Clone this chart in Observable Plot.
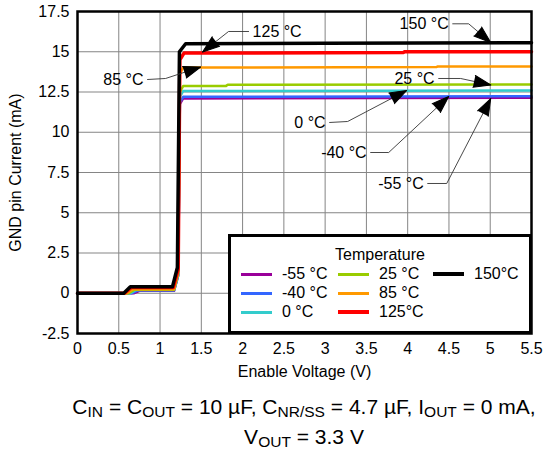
<!DOCTYPE html>
<html><head><meta charset="utf-8">
<script src="https://cdn.jsdelivr.net/npm/d3@7"></script>
<script src="https://cdn.jsdelivr.net/npm/@observablehq/plot@0.6"></script>
<style>
html,body{margin:0;padding:0;background:#fff;overflow:hidden}
#chart{position:relative;width:543px;height:455px;font-family:"Liberation Sans",Arial,sans-serif;color:#000}
#legend{position:absolute;box-sizing:border-box;background:#fff;border:3px solid #000}
#legend div{position:absolute;white-space:nowrap}
#caption{position:absolute;left:0;width:608px;text-align:center;font-size:21px;line-height:30px;white-space:nowrap}
#caption sub{font-size:0.74em;vertical-align:-0.22em;line-height:0}
</style></head><body><div id="chart"></div><script>
// ---- data ----
const temps = ["-55 °C", "-40 °C", "0 °C", "25 °C", "85 °C", "125°C", "150°C"];
const colors = ["#990099", "#3366ff", "#33cccc", "#99cc00", "#ff9900", "#ff0000", "#000000"];
const xTicks = [0, 0.5, 1, 1.5, 2, 2.5, 3, 3.5, 4, 4.5, 5, 5.5];
const yTicks = [-2.5, 0, 2.5, 5, 7.5, 10, 12.5, 15, 17.5];

const voltM55 = [0, 0.68, 0.75, 1.17, 1.22, 1.24, 1.28, 5.5];
const currM55 = [0, 0, 0.15, 0.15, 1.1, 11.75, 12.1, 12.14];
const voltM40 = [0, 0.66, 0.73, 1.17, 1.22, 1.24, 1.28, 5.5];
const currM40 = [0, 0, 0.18, 0.18, 1.1, 11.85, 12.2, 12.24];
const volt0 = [0, 0.64, 0.71, 1.17, 1.22, 1.24, 1.28, 5.5];
const curr0 = [0, 0, 0.2, 0.2, 1.2, 12.2, 12.56, 12.6];
const volt25 = [0, 0.62, 0.69, 1.17, 1.22, 1.24, 1.28, 1.8, 1.82, 5.5];
const curr25 = [0, 0, 0.22, 0.22, 1.2, 12.5, 12.87, 12.88, 12.95, 12.97];
const volt85 = [0, 0.6, 0.67, 1.17, 1.22, 1.24, 1.28, 4.35, 4.36, 5.5];
const curr85 = [0, 0, 0.25, 0.25, 1.3, 13.6, 14.02, 14.05, 14.08, 14.08];
const volt125 = [0, 0.57, 0.65, 1.16, 1.22, 1.24, 1.29, 3.95, 3.96, 5.5];
const curr125 = [0, 0, 0.35, 0.35, 1.5, 14.5, 14.92, 14.95, 15.0, 15.0];
const volt150 = [0, 0.56, 0.64, 1.15, 1.21, 1.235, 1.31, 3.0, 5.5];
const curr150 = [0, 0, 0.4, 0.4, 1.6, 15.0, 15.5, 15.53, 15.56];

const annLabels = ["125 °C", "85 °C", "150 °C", "25 °C", "0 °C", "-40 °C", "-55 °C"];
const annTextV = [2.121, 0.80, 4.497, 4.327, 3.006, 3.503, 4.194];
const annTextI = [16.258, 13.276, 16.736, 13.339, 10.606, 8.742, 6.817];
const annElbowV = [1.830, 1.067, 4.739, 4.642, 3.273, 3.770, 4.473];
const annElbowI = [16.258, 13.339, 16.736, 13.339, 10.668, 8.742, 6.817];
const annTipV = [1.515, 1.491, 5.006, 5.006, 3.988, 4.497, 5.006];
const annTipI = [14.985, 14.053, 15.575, 12.935, 12.593, 12.22, 12.096];

// ---- layout ----
const W = 543, H = 385, mt = 11, mr = 12, mb = 52, ml = 77;
const xDom = [0, 5.5], yDom = [-2.5, 17.5];
const kx = (W - ml - mr) / (xDom[1] - xDom[0]);
const ky = (H - mt - mb) / (yDom[1] - yDom[0]);
const fontFam = '"Liberation Sans", Arial, sans-serif';

const seriesV = [voltM55, voltM40, volt0, volt25, volt85, volt125, volt150];
const seriesI = [currM55, currM40, curr0, curr25, curr85, curr125, curr150];
const rows = temps.flatMap((t, k) => seriesV[k].map((v, j) => ({t, k, v, i: seriesI[k][j]})));
const thin = rows.filter(d => d.k < 5);
const thick = rows.filter(d => d.k >= 5);

const gap = 4;
const ann = annLabels.map((text, k) => {
  const start = annElbowV[k] < annTextV[k];
  return {text, k, start, v: annTextV[k], i: annTextI[k]};
});
const leaders = ann.flatMap(a => [
  {k: a.k, v: a.v + (a.start ? -gap : gap) / kx, i: a.i},
  {k: a.k, v: annElbowV[a.k], i: annElbowI[a.k]},
  {k: a.k, v: annTipV[a.k], i: annTipI[a.k]}
]);
const arrows = ann.map(a => {
  const dx = (annTipV[a.k] - annElbowV[a.k]) * kx;
  const dy = -(annTipI[a.k] - annElbowI[a.k]) * ky;
  return {v: annTipV[a.k], i: annTipI[a.k], a: Math.atan2(dx, -dy) * 180 / Math.PI, dx, dy};
});

const arrowLen = 17, arrowR = 6;
let arrowMark;
if (typeof Plot.spike === "function") {
  arrowMark = Plot.vector(arrows, {x: "v", y: "i", rotate: "a", length: arrowLen, r: arrowR, shape: "spike", anchor: "end", fill: "black", stroke: "black", strokeWidth: 1});
} else {
  const rr = 5;
  const off = 1.555 * rr;
  arrowMark = Plot.dot(arrows.map(d => {
    const n = Math.hypot(d.dx, d.dy);
    return {...d, cv: d.v - (d.dx / n) * off / kx, ci: d.i + (d.dy / n) * off / ky};
  }), {x: "cv", y: "ci", r: rr, symbol: "triangle", rotate: "a", fill: "black", stroke: "none"});
}

const fmt = d => String(d);
const plot = Plot.plot({
  width: W, height: H, marginTop: mt, marginRight: mr, marginBottom: mb, marginLeft: ml,
  style: {fontFamily: fontFam, fontSize: "16px", background: "white", color: "black", overflow: "visible"},
  x: {domain: xDom, ticks: xTicks, tickFormat: fmt, tickSize: 0, tickPadding: 9, label: "Enable Voltage (V)", labelAnchor: "center", labelOffset: 43, labelArrow: "none"},
  y: {domain: yDom, ticks: yTicks, tickFormat: fmt, tickSize: 0, tickPadding: 8, label: "GND pin Current (mA)", labelAnchor: "center", labelOffset: 68, labelArrow: "none"},
  color: {domain: temps, range: colors},
  marks: [
    Plot.ruleX(xTicks, {stroke: "#858585", strokeWidth: 1}),
    Plot.ruleY(yTicks, {stroke: "#858585", strokeWidth: 1}),
    Plot.line(thin, {x: "v", y: "i", z: "t", stroke: "t", strokeWidth: 2.5, curve: "linear"}),
    Plot.line(thick, {x: "v", y: "i", z: "t", stroke: "t", strokeWidth: 3.5, curve: "linear"}),
    Plot.line(leaders, {x: "v", y: "i", z: "k", stroke: "#333", strokeWidth: 0.9}),
    arrowMark,
    Plot.text(ann.filter(a => a.start), {x: "v", y: "i", text: "text", textAnchor: "start", lineAnchor: "middle", fontSize: 16, fill: "black"}),
    Plot.text(ann.filter(a => !a.start), {x: "v", y: "i", text: "text", textAnchor: "end", lineAnchor: "middle", fontSize: 16, fill: "black"}),
    Plot.frame({stroke: "black", strokeWidth: 2.5})
  ]
});
const chart = document.getElementById("chart");
chart.appendChild(plot);

// ---- legend (HTML overlay) ----
const lgLeft = 228, lgTop = 234, lgRight = W - mr + 1, lgBottom = H - mb + 1, bw = 3;
const legend = document.createElement("div");
legend.id = "legend";
Object.assign(legend.style, {left: lgLeft + "px", top: lgTop + "px", width: (lgRight - lgLeft) + "px", height: (lgBottom - lgTop) + "px"});
chart.appendChild(legend);
const innerW = lgRight - lgLeft - 2 * bw;
const title = document.createElement("div");
title.textContent = "Temperature";
Object.assign(title.style, {left: "0px", width: innerW + "px", textAlign: "center", top: (21 - bw - 9) + "px", fontSize: "16px", lineHeight: "18px"});
legend.appendChild(title);
const colX = [13, 110, 205], rowY = [40, 59, 78], swW = 31, txtOff = 41;
temps.forEach((t, k) => {
  const c = Math.floor(k / 3), r = k % 3;
  const sw = document.createElement("div");
  const th = k >= 5 ? 4 : 3;
  Object.assign(sw.style, {left: (colX[c] - bw) + "px", top: (rowY[r] - bw - th / 2) + "px", width: swW + "px", height: th + "px", background: colors[k]});
  legend.appendChild(sw);
  const tx = document.createElement("div");
  tx.textContent = t;
  Object.assign(tx.style, {left: (colX[c] + txtOff - bw) + "px", top: (rowY[r] - bw - 9) + "px", fontSize: "16px", lineHeight: "18px"});
  legend.appendChild(tx);
});

// ---- caption ----
const cap = document.createElement("div");
cap.id = "caption";
cap.style.top = "392px";
cap.innerHTML = "C<sub>IN</sub> = C<sub>OUT</sub> = 10 µF, C<sub>NR/SS</sub> = 4.7 µF, I<sub>OUT</sub> = 0 mA,<br>V<sub>OUT</sub> = 3.3 V";
chart.appendChild(cap);
</script></body></html>
